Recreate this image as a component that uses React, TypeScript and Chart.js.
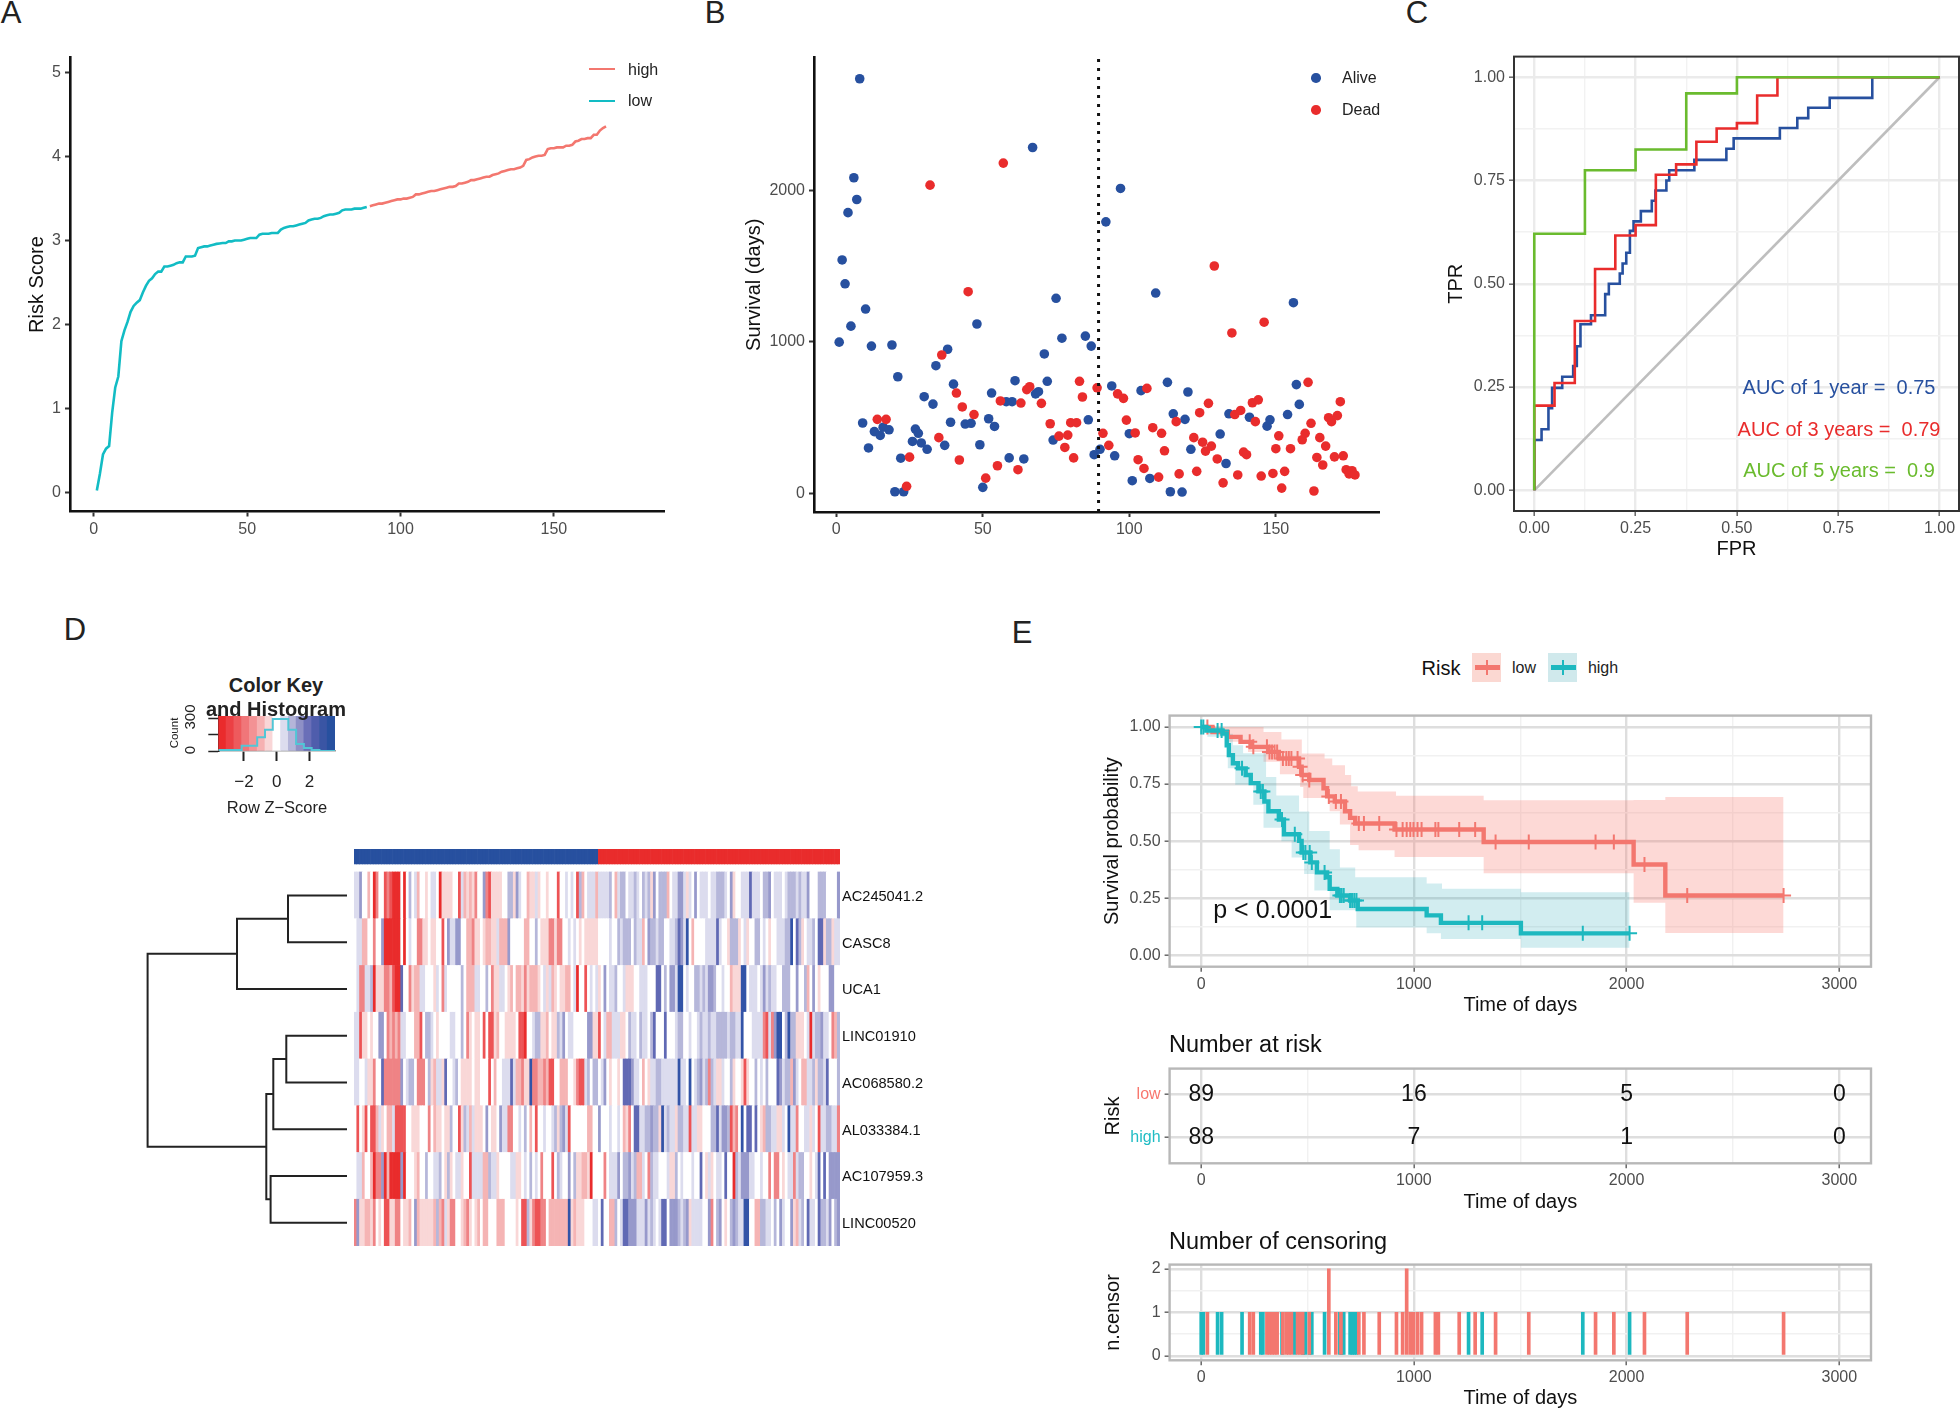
import React, { useEffect, useRef } from "react";
import { Chart, registerables } from "chart.js";

Chart.register(...registerables);
const FONT = "'Liberation Sans', Arial, sans-serif";
Chart.defaults.font.family = FONT;

/* ---------- Panel A ---------- */
const riskLow = [0.02,0.22,0.45,0.52,0.55,0.95,1.25,1.38,1.8,1.93,2.03,2.15,2.22,2.26,2.29,2.38,2.46,2.52,2.55,2.6,2.63,2.63,2.69,2.69,2.7,2.71,2.73,2.74,2.74,2.81,2.81,2.81,2.82,2.91,2.92,2.93,2.93,2.94,2.95,2.96,2.965,2.97,2.97,2.99,2.99,3,3,3,3.01,3.02,3.03,3.03,3.03,3.07,3.08,3.08,3.08,3.09,3.09,3.09,3.13,3.15,3.16,3.17,3.17,3.18,3.19,3.2,3.21,3.24,3.25,3.26,3.26,3.27,3.29,3.3,3.31,3.31,3.32,3.33,3.36,3.37,3.37,3.37,3.38,3.38,3.38,3.39,3.4];
const riskHigh = [3.41,3.42,3.43,3.44,3.44,3.45,3.46,3.47,3.48,3.49,3.49,3.5,3.5,3.51,3.52,3.55,3.55,3.56,3.57,3.58,3.59,3.59,3.6,3.61,3.62,3.63,3.64,3.64,3.65,3.68,3.68,3.69,3.7,3.72,3.72,3.73,3.74,3.75,3.76,3.76,3.78,3.79,3.8,3.82,3.83,3.84,3.85,3.85,3.86,3.87,3.89,3.96,3.97,3.99,4,4.01,4.01,4.02,4.09,4.1,4.1,4.11,4.11,4.11,4.13,4.13,4.14,4.18,4.19,4.21,4.21,4.22,4.22,4.26,4.26,4.31,4.34,4.36];

/* ---------- Panel B ---------- */
const aliveX = [1,2,3,4,5,6,7,8,9,10,11,12,13,15,16,18,19,20,21,22,23,26,27,28,29,30,31,33,34,37,38,39,40,44,46,48,49,50,52,53,54,58,59,60,61,64,67,68,69,71,72,74,75,77,85,86,87,88,90,92,94,95,97,100,101,104,107,109,113,114,115,118,119,120,121,131,133,134,141,147,148,154,156,157,158];
const aliveY = [999,1543,1385,1856,1105,2087,1943,2742,464,1218,299,973,407,382,436,419,980,9,770,231,9,342,424,396,332,638,290,589,843,316,952,469,721,457,462,1119,320,38,492,662,441,605,233,605,744,226,2287,657,671,921,740,351,1289,1025,1039,485,973,254,290,1795,709,247,2016,393,82,678,97,1324,733,9,525,7,488,669,290,391,196,525,502,443,485,520,1260,718,587];
const deadX = [14,17,24,25,32,35,36,41,42,43,45,47,51,55,56,57,62,63,65,66,70,73,76,78,79,80,81,82,83,84,89,91,93,96,98,99,102,103,105,106,108,110,111,112,116,117,122,123,124,125,126,127,128,129,130,132,135,136,137,138,139,140,142,143,144,145,146,149,150,151,152,153,155,159,160,161,162,163,164,165,166,167,168,169,170,171,172,173,174,175,176,177];
const deadY = [488,488,45,238,2038,367,914,662,219,570,1333,520,99,181,610,2184,155,596,685,704,594,459,377,302,384,466,233,466,740,636,697,396,316,657,627,483,398,221,163,693,433,106,396,280,473,127,367,144,532,337,278,594,311,1503,226,68,1060,520,120,547,271,254,598,473,617,113,1131,130,294,379,33,144,294,353,396,733,462,14,236,367,186,311,499,473,240,513,605,247,155,127,148,120];
const cutoffX = 89.5;

/* ---------- Panel C ---------- */
const roc1X = [0,0,0.018,0.035,0.044,0.069,0.096,0.105,0.114,0.14,0.175,0.184,0.211,0.218,0.227,0.236,0.245,0.263,0.29,0.299,0.326,0.333,0.395,0.474,0.492,0.606,0.649,0.676,0.729,0.834,1];
const roc1Y = [0,0.122,0.148,0.199,0.248,0.275,0.301,0.349,0.402,0.424,0.475,0.5,0.525,0.549,0.575,0.628,0.651,0.676,0.701,0.726,0.75,0.775,0.8,0.827,0.852,0.877,0.901,0.926,0.95,1,1];
const roc3X = [0,0,0.05,0.1,0.15,0.2,0.25,0.3,0.35,0.4,0.45,0.5,0.55,0.6,1];
const roc3Y = [0,0.205,0.26,0.41,0.536,0.617,0.642,0.764,0.789,0.844,0.876,0.889,0.956,1,1];
const roc5X = [0,0,0.125,0.25,0.375,0.5,1];
const roc5Y = [0,0.621,0.775,0.825,0.961,1,1];
const aucLabels = ["AUC of 1 year =  0.75","AUC of 3 years =  0.79","AUC of 5 years =  0.9"];

/* ---------- Panel D ---------- */
const geneNames = ["AC245041.2","CASC8","UCA1","LINC01910","AC068580.2","AL033384.1","AC107959.3","LINC00520"];
// one letter per sample: a (strongly red) ... f (white) ... k (strongly blue)
const heatRows = [
 ["ggiffdfacffbcbaaafafhfgdffefggfaeeeeffbgdedecfficbeeeeffhhe","igffdeegeffefffbffgfgfbhdfgggdgggghfdghhfgghgfhgheifhhhdfgg","iigegfifgggfgghhhgfieffgggjgggfhhifgggfghhhghggifffhhhffffif"],
 ["fggddffcffiaaaaaafafgffcceefeeffbfiggiiffddceefeddeegdddiff","fffddffhfeeecceccffgfgfefeeeeeffffgffhghhhfhggdfihhghhffggh","jigkfdffffggggjgffehhhefgeffhhfgfeffggghhkfjhefgghfjjehhegg"],
 ["fgccgghaeeeccdbaajffceddggfffegfcgfffffhfdddggffhfceeggfedfg","ddecedddefgegdefeeddfgaffbfgfgefifgghffgeeeffgggfffjjfhfiig","kkfgffhhghgiihffgffdeeekkfgggfgighggffhhhffiffhdfifefffiiff"],
 ["ggbeefeffiifcdcdcggfffddbfhhgfeffffggffhfcefeefbfbbedffeeee","fbbaffghheedfeehgifggfffffiieebfgddgggeefhggfhggfhjfffjfffgf","hhffgffghgghgghhhhghhggkfffggggcbgcikkfhkhheeefgaghhiggfcdh"],
 ["ggffgeecffjccccccifghhfcccfhedggejffghfeeeefeefffbfdffgggjg","ddceekccddcdbbffdddffecbbghfhhfgifeffefjjjiggfdfegghhgggggg","kggfkfghighchgeegffheffebeffhfgfhfffjighhdigfddgghehhgjfffh"],
 ["fbfebfbbdgefddgbbbbffeeefffcfdeefeehffbehgdgeeefifeefiggccf","fgfhfdfbffgffghehigbffffffddffifffgffgfdecfjjgghhihhekghgge","hhggbggeefffhhjgiihbdcfkfjjfjfedhhggeegfkggcffggegfbgghhggc"],
 ["fggdffdacciadaaaaiafffedffhffgghfehefggeffbggggddhggeffffgg","eefgfhfgfcfffbfhgffifheeddeaffffcfgggifhhighddgfchggfffgeeh","fgfffgffjfegefggfjffahgiiiggffgffcfccfefggcghhffefgjfjfiiii"],
 ["cieeddecfefbbeeccfeedfideeeeedhdcgeccffedcefedfddfffdddffff","efbbhecbbccfdddddddkedeeefffggfjffddhfgjjiiigggighgfgjjfiii","hghieggggfficfhifefhihggkkffddhhggfhfigffiedghfjggfjhhgifhi"],
];
const levelColors = {a:"#e92c2c",b:"#ed5355",c:"#ef8385",d:"#f5b4b4",e:"#f9d7d7",f:"#ffffff",g:"#dcdcee",h:"#b6b7da",i:"#9799cb",j:"#6069b4",k:"#3253a7"};
const groupAliveCount = 89, groupTotal = 177;
// [merge height, child A height, child A row, child B height, child B row]
const dendroMerges = [
 [2.95,0,0.5,0,1.5],[5.5,2.95,1,0,2.5],[3.035,0,3.5,0,4.5],[3.685,3.035,4,0,5.5],
 [3.82,0,6.5,0,7.5],[4.035,3.685,4.75,3.82,7],[9.97,5.5,1.75,4.035,5.875],
];
const keyCenters = [-3.325,-2.85,-2.375,-1.9,-1.425,-0.95,-0.475,0,0.475,0.95,1.425,1.9,2.375,2.85,3.325];
const keyColors = ["#ea2b2c","#ec4044","#ee5a5d","#f07679","#f39294","#f6b1b2","#f9d6d7","#ffffff","#dcdcee","#b4b5d9","#8e90c6","#6a6fb8","#4f5dac","#3a55a4","#27509f"];
const keyCounts = [9,9,9,50,50,130,200,300,300,200,66,28,9,0,0];
const keyTicks = [-2,0,2];

/* ---------- Panel E ---------- */
const lowT = [0,53,125,185,233,316,365,460,472,508,575,592,628,676,700,724,909,1328,2033,2182,2738];
const lowS = [1,0.978,0.957,0.935,0.913,0.891,0.862,0.826,0.79,0.768,0.732,0.696,0.674,0.631,0.602,0.577,0.551,0.496,0.398,0.262,0.262];
const lowUpT = [0,293,377,473,580,616,676,705,736,916,1328,2033,2182,2738];
const lowUpS = [1,0.978,0.945,0.884,0.862,0.833,0.79,0.74,0.718,0.699,0.679,0.68,0.693,0.693];
const lowLoT = [0,30,125,220,293,370,465,480,604,652,700,740,909,1328,2033,2182,2738];
const lowLoS = [1,0.971,0.935,0.891,0.848,0.793,0.737,0.689,0.631,0.573,0.483,0.46,0.431,0.359,0.23,0.098,0.098];
const highT = [0,24,100,120,130,149,173,209,233,269,297,316,365,389,460,472,513,544,592,604,640,700,736,1060,1127,1503,2014];
const highS = [1,0.985,0.971,0.92,0.877,0.841,0.819,0.79,0.754,0.718,0.674,0.631,0.595,0.53,0.501,0.45,0.407,0.363,0.342,0.291,0.262,0.24,0.203,0.175,0.142,0.096,0.096];
const highUpT = [0,105,149,197,305,353,460,508,604,652,724,1060,1132,1503,2014];
const highUpS = [1,0.971,0.92,0.885,0.781,0.7,0.63,0.544,0.465,0.385,0.342,0.315,0.291,0.276,0.276];
const highLoT = [0,29,125,160,245,293,377,425,484,532,604,729,1060,1127,1503,2014];
const highLoS = [1,0.957,0.819,0.747,0.66,0.559,0.5,0.428,0.356,0.284,0.197,0.122,0.096,0.071,0.033,0.033];
const censorLowT = [29,228,245,309,321,333,345,357,384,400,412,424,453,465,477,508,600,633,657,741,765,837,918,947,966,983,998,1017,1036,1101,1115,1213,1288,1384,1540,1854,1940,2084,2285,2738];
const censorLowN = [1,1,1,1,1,1,1,1,1,1,1,1,1,1,1,1,2,1,1,1,1,1,1,1,2,1,1,1,1,1,1,1,1,1,1,1,1,1,1,1];
const censorHighT = [0,10,77,96,192,280,290,380,440,480,490,510,520,580,652,660,670,700,710,720,730,1257,1321,1794,2014];
const censorHighN = [1,1,1,1,1,1,1,1,1,1,1,1,1,1,1,1,1,1,1,1,1,1,1,1,1];
const riskTimes = [0,1000,2000,3000];
const atRiskLow = [89,16,5,0];
const atRiskHigh = [88,7,1,0];

const C_LOW = "#f3776f", C_HIGH = "#1db8bf", RED = "#e92c2c", BLUE = "#27509f", GREEN = "#6abb2e";

/* ---------- helpers ---------- */
type Box = { l: number; t: number; r: number; b: number };
function frame(plot: Box, titleLeftX: number, titleBottomY: number) {
  const left = titleLeftX - 12, bottom = titleBottomY + 12;
  const top = Math.floor(plot.t - 12), right = Math.min(1960, Math.ceil(plot.r + 12));
  return {
    rect: { left, top, width: right - left, height: bottom - top },
    padding: { left: 0, bottom: 0, top: plot.t - top, right: right - plot.r },
    yw: plot.l - left, xh: bottom - plot.b,
  };
}
function axis(o: any) {
  const major = o.major as number[];
  const isMajor = (v: number) => major.includes(v);
  const themed = !!o.bw;
  const s: any = {
    type: "linear", min: o.min, max: o.max, offset: false,
    afterBuildTicks: (sc: any) => { sc.ticks = (o.all || major).map((v: number) => ({ value: v })); },
    afterFit: (sc: any) => { if (o.w !== undefined) sc.width = o.w; if (o.h !== undefined) sc.height = o.h; },
    ticks: {
      autoSkip: false, maxRotation: 0, minRotation: 0, padding: o.pad ?? 3, color: o.tickColor || "#4d4d4d",
      font: { size: 16 },
      callback: (v: number) => (isMajor(v) ? (o.fmt ? o.fmt(v) : String(v)) : ""),
    },
    grid: themed ? {
      offset: false, tickLength: 5,
      color: (c: any) => (c.tick && isMajor(c.tick.value) ? o.bw[0] : o.bw[1]),
      lineWidth: (c: any) => (c.tick && isMajor(c.tick.value) ? 2.4 : 1.4),
      tickColor: (c: any) => (c.tick && isMajor(c.tick.value) ? "#666" : "transparent"),
      tickWidth: 1.5,
    } : { offset: false, drawOnChartArea: false, tickLength: 5, tickColor: "#333", tickWidth: 2 },
    border: themed ? { display: false } : { display: true, color: "#111", width: 2.6 },
    title: o.title ? { display: true, text: o.title, color: "#111", font: { size: 20 }, padding: 0 } : { display: false },
  };
  return s;
}
const boxPlugin = (color: string, width: number) => ({
  id: "panelBox",
  afterDatasetsDraw(chart: any) {
    const a = chart.chartArea, c = chart.ctx;
    c.save(); c.strokeStyle = color; c.lineWidth = width;
    c.strokeRect(a.left, a.top, a.right - a.left, a.bottom - a.top); c.restore();
  },
});
const textPlugin = (items: any[]) => ({
  id: "dataText",
  afterDatasetsDraw(chart: any) {
    const c = chart.ctx, { x, y } = chart.scales;
    c.save(); c.textAlign = "center"; c.textBaseline = "middle";
    items.forEach((i) => {
      c.font = `${i.size}px ${FONT}`; c.fillStyle = i.color;
      c.fillText(i.text, x.getPixelForValue(i.x), y.getPixelForValue(i.y));
    });
    c.restore();
  },
});
const zipXY = (xs: number[], ys: number[]) => xs.map((x, i) => ({ x, y: ys[i] }));
const stepAt = (ts: number[], ss: number[], t: number) => {
  let v = ss[0];
  ts.forEach((tt, i) => { if (tt <= t) v = ss[i]; });
  return v;
};
const base = (padding: any, extra: any = {}) => ({
  responsive: false, animation: false, devicePixelRatio: 1, maintainAspectRatio: false,
  layout: { padding },
  plugins: { legend: { display: false }, tooltip: { enabled: false }, title: { display: false } },
  ...extra,
});
const noPt = { pointRadius: 0, pointHoverRadius: 0 };

function buildSpecs() {
  const specs: any[] = [];

  // A
  {
    const f = frame({ l: 70, t: 56, r: 664, b: 511.5 }, 37, 528);
    specs.push({ rect: f.rect, config: {
      type: "line",
      data: { datasets: [
        { data: riskLow.map((y, i) => ({ x: i + 1, y })), borderColor: "#12bcc4", borderWidth: 2.6, ...noPt },
        { data: riskHigh.map((y, i) => ({ x: i + 90, y })), borderColor: C_LOW, borderWidth: 2.6, ...noPt },
      ] },
      options: base(f.padding, { scales: {
        x: axis({ min: -7.75, max: 185.9, major: [0, 50, 100, 150], h: f.xh }),
        y: axis({ min: -0.229, max: 5.18, major: [0, 1, 2, 3, 4, 5], w: f.yw, title: "Risk Score", pad: 4 }),
      } }),
    } });
  }
  // B
  {
    const f = frame({ l: 814, t: 56, r: 1379, b: 512 }, 754, 528);
    specs.push({ rect: f.rect, config: {
      type: "scatter",
      data: { datasets: [
        { data: [{ x: cutoffX, y: -125 }, { x: cutoffX, y: 2882 }], showLine: true, borderColor: "#111", borderWidth: 3, borderDash: [3, 6], ...noPt },
        { data: zipXY(deadX, deadY), backgroundColor: RED, pointRadius: 4.8, borderWidth: 0 },
        { data: zipXY(aliveX, aliveY), backgroundColor: BLUE, pointRadius: 4.8, borderWidth: 0 },
      ] },
      options: base(f.padding, { scales: {
        x: axis({ min: -7.6, max: 185.2, major: [0, 50, 100, 150], h: f.xh }),
        y: axis({ min: -125, max: 2882, major: [0, 1000, 2000], w: f.yw, title: "Survival (days)", pad: 4 }),
      } }),
    } });
  }
  // C
  {
    const f = frame({ l: 1514, t: 55, r: 1959, b: 511 }, 1456, 549);
    const fmt = (v: number) => v.toFixed(2);
    const all = [0, 0.125, 0.25, 0.375, 0.5, 0.625, 0.75, 0.875, 1];
    const major = [0, 0.25, 0.5, 0.75, 1];
    const bw = ["#ebebeb", "#f2f2f2"];
    specs.push({ rect: f.rect, plugins: [boxPlugin("#333", 2), textPlugin([
        { text: aucLabels[0], x: 0.752, y: 0.247, size: 20, color: BLUE },
        { text: aucLabels[1], x: 0.752, y: 0.145, size: 20, color: RED },
        { text: aucLabels[2], x: 0.752, y: 0.046, size: 20, color: GREEN },
      ])], config: {
      type: "line",
      data: { datasets: [
        { data: zipXY(roc5X, roc5Y), stepped: true, borderColor: GREEN, borderWidth: 2.6, ...noPt },
        { data: zipXY(roc3X, roc3Y), stepped: true, borderColor: RED, borderWidth: 2.6, ...noPt },
        { data: zipXY(roc1X, roc1Y), stepped: true, borderColor: BLUE, borderWidth: 2.6, ...noPt },
        { data: [{ x: 0, y: 0 }, { x: 1, y: 1 }], borderColor: "#bebebe", borderWidth: 2.6, ...noPt },
      ] },
      options: base(f.padding, { scales: {
        x: axis({ min: -0.05, max: 1.048, all, major, bw, fmt, h: f.xh, title: "FPR" }),
        y: axis({ min: -0.05, max: 1.05, all, major, bw, fmt, w: f.yw, title: "TPR", pad: 4 }),
      } }),
    } });
  }
  // D heatmap (stacked bars, one stack per sample)
  {
    const labels = Array.from({ length: groupTotal }, (_, i) => i + 1);
    const rowDatasets = heatRows.map((chunks) => {
      const chars = chunks.map((c) => c.padEnd(59, "f").slice(0, 59)).join("");
      return { label: "row", data: labels.map(() => 1), backgroundColor: chars.split("").map((ch) => (levelColors as any)[ch]), borderWidth: 0, stack: "s" };
    }).reverse();
    specs.push({ rect: { left: 354, top: 849, width: 606, height: 397 }, config: {
      type: "bar",
      data: { labels, datasets: [
        ...rowDatasets,
        { data: labels.map(() => 0.171), backgroundColor: "rgba(0,0,0,0)", borderWidth: 0, stack: "s" },
        { data: labels.map(() => 0.32), backgroundColor: labels.map((l) => (l <= groupAliveCount ? BLUE : RED)), borderWidth: 0, stack: "s" },
      ] },
      options: base({ left: 0, top: 0, bottom: 0, right: 0 }, {
        datasets: { bar: { barPercentage: 1, categoryPercentage: 1 } },
        scales: {
          x: { stacked: true, display: false },
          y: { stacked: true, min: 0, max: 8.491, position: "right",
            afterBuildTicks: (sc: any) => { sc.ticks = geneNames.map((_, i) => ({ value: 7.47 - i })); },
            afterFit: (sc: any) => { sc.width = 120; sc.paddingTop = 0; sc.paddingBottom = 0; },
            grid: { display: false, drawTicks: false, tickLength: 0 }, border: { display: false },
            ticks: { autoSkip: false, padding: 2, color: "#111", font: { size: 14.6 },
              callback: (v: number) => geneNames[Math.round(7.5 - v)] },
          },
        },
      }),
    } });
  }
  // D dendrogram
  {
    const pts: any[] = [];
    dendroMerges.forEach(([h, ha, ya, hb, yb]) => {
      pts.push({ x: ha, y: ya }, { x: h, y: ya }, { x: h, y: yb }, { x: hb, y: yb }, { x: NaN, y: NaN });
    });
    specs.push({ rect: { left: 137, top: 872, width: 210, height: 374 }, config: {
      type: "line",
      data: { datasets: [{ data: pts, borderColor: "#222", borderWidth: 2, spanGaps: false, clip: false, ...noPt }] },
      options: base({ left: 0, top: 0, bottom: 0, right: 0 }, { scales: {
        x: { type: "linear", display: false, reverse: true, min: 0, max: 10.5 },
        y: { type: "linear", display: false, reverse: true, min: 0, max: 8 },
      } }),
    } });
  }
  // D colour key
  {
    specs.push({ rect: { left: 190, top: 706, width: 155, height: 94 }, config: {
      type: "bar",
      data: { datasets: [
        { type: "line", data: zipXY([-3.5625, ...keyCenters, 3.5625], [keyCounts[0], ...keyCounts, keyCounts[14]]), stepped: "middle", borderColor: "#52c6d6", borderWidth: 2, ...noPt },
        { data: keyCenters.map((x) => ({ x, y: 328 })), backgroundColor: keyColors, borderWidth: 0, barPercentage: 1, categoryPercentage: 1 },
      ] },
      options: base({ left: 0, top: 10, right: 10, bottom: 0 }, { scales: {
        x: { type: "linear", min: -3.5625, max: 3.5625, offset: false,
          afterBuildTicks: (sc: any) => { sc.ticks = keyTicks.map((v) => ({ value: v })); },
          afterFit: (sc: any) => { sc.height = 49; },
          grid: { offset: false, drawOnChartArea: false, tickLength: 10, tickColor: "#222", tickWidth: 2 },
          border: { display: true, color: "#999", width: 1.5 },
          ticks: { autoSkip: false, maxRotation: 0, padding: 11, color: "#222", font: { size: 17 },
            callback: (v: number) => String(v).replace("-", "\u2212") },
        },
        y: { type: "linear", min: 0, max: 328,
          afterBuildTicks: (sc: any) => { sc.ticks = [0, 50, 100, 150, 200, 250, 300].map((v) => ({ value: v })); },
          afterFit: (sc: any) => { sc.width = 28.3; },
          grid: { drawOnChartArea: false, tickLength: 10, tickColor: "#222", tickWidth: 1.5 },
          border: { display: true, color: "#222", width: 1.5 },
          ticks: { callback: () => "", padding: 0 },
        },
      } }),
    } });
  }
  // E
  const xAll = [0, 500, 1000, 1500, 2000, 2500, 3000];
  const xMajor = [0, 1000, 2000, 3000];
  const bwE = ["#dedede", "#f1f1f1"];
  const ex = (h: number) => axis({ min: -148.6, max: 3149, all: xAll, major: xMajor, bw: bwE, h, title: "Time of days" });
  {
    const f = frame({ l: 1169.6, t: 714, r: 1871, b: 966.7 }, 1112, 1005);
    const fmt = (v: number) => v.toFixed(2);
    specs.push({ rect: f.rect, plugins: [boxPlugin("#b8b8b8", 2.4), textPlugin([{ text: "p < 0.0001", x: 336, y: 0.194, size: 25, color: "#111" }])], config: {
      type: "line",
      data: { datasets: [
        { data: censorHighT.map((t) => ({ x: t, y: stepAt(highT, highS, t) })), showLine: false, pointStyle: "cross", pointRadius: 7.5, pointBorderColor: C_HIGH, pointBorderWidth: 2, pointBackgroundColor: C_HIGH },
        { data: zipXY(highT, highS), stepped: true, borderColor: C_HIGH, borderWidth: 4.4, ...noPt },
        { data: censorLowT.map((t) => ({ x: t, y: stepAt(lowT, lowS, t) })), showLine: false, pointStyle: "cross", pointRadius: 7.5, pointBorderColor: C_LOW, pointBorderWidth: 2, pointBackgroundColor: C_LOW },
        { data: zipXY(lowT, lowS), stepped: true, borderColor: C_LOW, borderWidth: 4.4, ...noPt },
        { data: zipXY(highUpT, highUpS), stepped: true, borderWidth: 0, fill: "+1", backgroundColor: "rgba(31,165,180,0.2)", ...noPt },
        { data: zipXY(highLoT, highLoS), stepped: true, borderWidth: 0, fill: false, ...noPt },
        { data: zipXY(lowUpT, lowUpS), stepped: true, borderWidth: 0, fill: "+1", backgroundColor: "rgba(248,118,109,0.28)", ...noPt },
        { data: zipXY(lowLoT, lowLoS), stepped: true, borderWidth: 0, fill: false, ...noPt },
      ] },
      options: base(f.padding, { scales: {
        x: ex(f.xh),
        y: axis({ min: -0.05, max: 1.05, all: [0, 0.125, 0.25, 0.375, 0.5, 0.625, 0.75, 0.875, 1], major: [0, 0.25, 0.5, 0.75, 1], bw: bwE, fmt, w: f.yw, title: "Survival probability", pad: 4 }),
      } }),
    } });
  }
  {
    const f = frame({ l: 1169.6, t: 1067.7, r: 1871, b: 1163.3 }, 1113, 1202);
    const items: any[] = [];
    riskTimes.forEach((t, i) => {
      items.push({ text: String(atRiskLow[i]), x: t, y: 1.99, size: 23, color: "#111" });
      items.push({ text: String(atRiskHigh[i]), x: t, y: 0.99, size: 23, color: "#111" });
    });
    const yAx = axis({ min: 0.4, max: 2.6, major: [1, 2], bw: bwE, w: f.yw, title: "Risk", pad: 4, fmt: (v: number) => (v === 2 ? "low" : "high") });
    yAx.ticks.color = (c: any) => (c.tick && c.tick.value === 2 ? "#f8766d" : "#1fbcc4");
    specs.push({ rect: f.rect, plugins: [boxPlugin("#b8b8b8", 2.4), textPlugin(items)], config: {
      type: "scatter",
      data: { datasets: [
        { data: riskTimes.map((x) => ({ x, y: 2 })), ...noPt },
        { data: riskTimes.map((x) => ({ x, y: 1 })), ...noPt },
      ] },
      options: base(f.padding, { scales: { x: ex(f.xh), y: yAx } }),
    } });
  }
  {
    const f = frame({ l: 1169.6, t: 1263.7, r: 1871, b: 1360.3 }, 1113, 1398);
    specs.push({ rect: f.rect, plugins: [boxPlugin("#b8b8b8", 2.4)], config: {
      type: "bar",
      data: { datasets: [
        { data: zipXY(censorLowT, censorLowN), backgroundColor: C_LOW, barThickness: 3, grouped: false, borderWidth: 0 },
        { data: zipXY(censorHighT, censorHighN), backgroundColor: C_HIGH, barThickness: 3, grouped: false, borderWidth: 0 },
      ] },
      options: base(f.padding, { scales: {
        x: ex(f.xh),
        y: axis({ min: -0.105, max: 2.1, all: [0, 0.5, 1, 1.5, 2], major: [0, 1, 2], bw: bwE, w: f.yw, title: "n.censor", pad: 4 }),
      } }),
    } });
  }
  return specs;
}

function T({ x, y, s, children, color = "#222", bold, rot, align = "center" }: any) {
  const tx = align === "left" ? "0" : "-50%";
  return (
    <div style={{ position: "absolute", left: x, top: y, fontSize: s, lineHeight: 1, color, fontWeight: bold ? 700 : 400, fontFamily: FONT, whiteSpace: "pre",
      transform: `translate(${tx},-50%)${rot ? " rotate(-90deg)" : ""}` }}>{children}</div>
  );
}
function LineKey({ x, y, w, color }: any) {
  return <div style={{ position: "absolute", left: x, top: y - 1.3, width: w, height: 2.6, background: color }} />;
}
function Dot({ x, y, color }: any) {
  return <div style={{ position: "absolute", left: x - 4.8, top: y - 4.8, width: 9.6, height: 9.6, borderRadius: "50%", background: color }} />;
}
function KmKey({ x, bg, color }: any) {
  return (
    <>
      <div style={{ position: "absolute", left: x, top: 653, width: 29.5, height: 29, background: bg }} />
      <div style={{ position: "absolute", left: x + 3, top: 665, width: 25, height: 5, background: color }} />
      <div style={{ position: "absolute", left: x + 14.5, top: 660, width: 1.8, height: 15, background: color }} />
    </>
  );
}

export default function App() {
  const specs = useRef(buildSpecs());
  const refs = useRef<(HTMLCanvasElement | null)[]>([]);
  useEffect(() => {
    const charts = specs.current.map((sp: any, i: number) =>
      new Chart(refs.current[i] as HTMLCanvasElement, { ...sp.config, plugins: sp.plugins || [] }));
    return () => charts.forEach((c: any) => c.destroy());
  }, []);
  return (
    <div style={{ position: "absolute", left: 0, top: 0, width: 1960, height: 1408, overflow: "hidden", background: "#fff", fontFamily: FONT }}>
      {specs.current.map((sp: any, i: number) => (
        <canvas key={i} ref={(el) => { refs.current[i] = el; }} width={sp.rect.width} height={sp.rect.height}
          style={{ position: "absolute", left: sp.rect.left, top: sp.rect.top, width: sp.rect.width, height: sp.rect.height, display: "block" }} />
      ))}
      <T x={11} y={12} s={31}>A</T>
      <T x={715} y={12} s={31}>B</T>
      <T x={1417} y={12} s={31}>C</T>
      <T x={75} y={629} s={31}>D</T>
      <T x={1022} y={632} s={31}>E</T>

      <LineKey x={589} y={69} w={26} color={C_LOW} />
      <LineKey x={589} y={101} w={26} color="#12bcc4" />
      <T x={628} y={70} s={16} align="left">high</T>
      <T x={628} y={101} s={16} align="left">low</T>

      <Dot x={1316} y={78} color={BLUE} />
      <Dot x={1316} y={110} color={RED} />
      <T x={1342} y={78} s={16} align="left">Alive</T>
      <T x={1342} y={110} s={16} align="left">Dead</T>

      <T x={276} y={685} s={20} bold>Color Key</T>
      <T x={276} y={709} s={20} bold>and Histogram</T>
      <T x={277} y={807} s={16.5}>{"Row Z\u2212Score"}</T>
      <T x={175} y={733} s={11.5} rot>Count</T>
      <T x={189} y={717} s={15} rot>300</T>
      <T x={189} y={750} s={15} rot>0</T>

      <T x={1441} y={668} s={20} color="#111">Risk</T>
      <KmKey x={1471.6} bg="#fbd8d2" color={C_LOW} />
      <T x={1524} y={668} s={16}>low</T>
      <KmKey x={1547.7} bg="#d0e9ec" color={C_HIGH} />
      <T x={1603} y={668} s={16}>high</T>

      <T x={1169} y={1045} s={23.5} align="left" color="#111">Number at risk</T>
      <T x={1169} y={1242} s={23.5} align="left" color="#111">Number of censoring</T>
    </div>
  );
}
